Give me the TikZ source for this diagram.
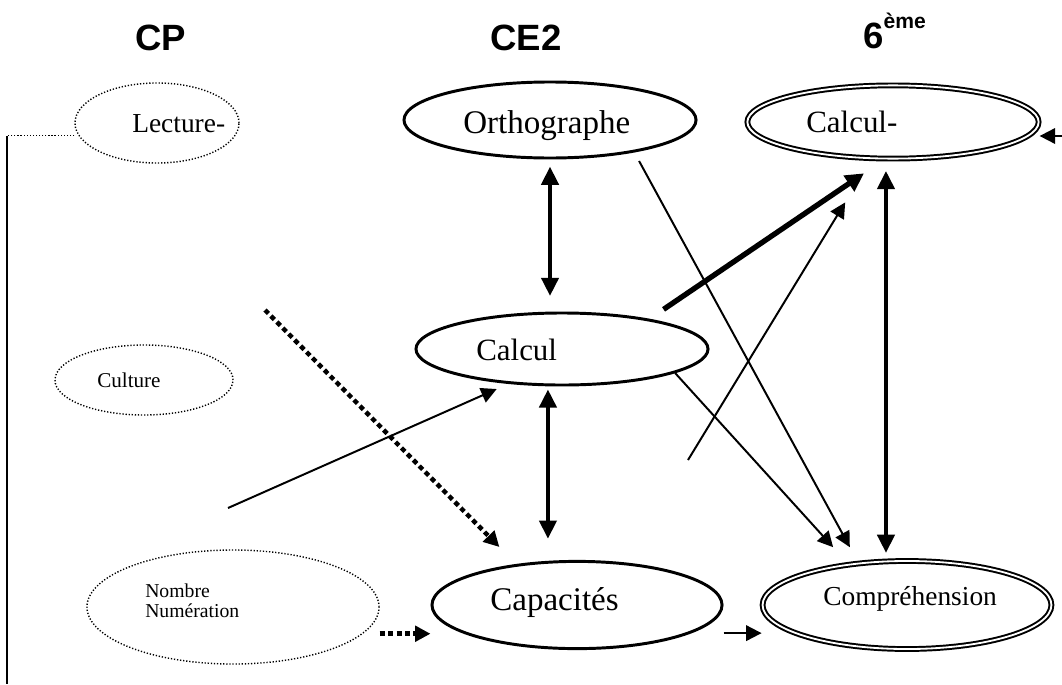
\documentclass[tikz,border=0pt]{standalone}
\usepackage{fontspec}
\setmainfont{Liberation Serif}
\newfontfamily\titrefont{Liberation Sans}
\usetikzlibrary{arrows.meta,shapes.geometric}

\begin{document}
\begin{tikzpicture}[x=0.025cm, y=-0.025cm,
    bulle/.style={ellipse, draw, line width=2.1pt, inner sep=0pt},
    bulledouble/.style={ellipse, draw, line width=1.4pt, double, double distance=1.3pt, inner sep=0pt},
    bullepoint/.style={ellipse, draw, line width=1pt, dash pattern=on 0.9pt off 1.3pt, inner sep=0pt},
    titre/.style={anchor=base west, inner sep=0pt, font=\titrefont\bfseries\fontsize{26}{30}\selectfont},
    mot/.style={anchor=base west, inner sep=0pt, font=\fontsize{22}{26}\selectfont},
    petit/.style={anchor=base west, inner sep=0pt, font=\fontsize{15}{18}\selectfont},
    fin/.style={line width=1.4pt, -{Triangle[length=11pt,width=11pt]}},
    bidir/.style={line width=3.2pt, {Triangle[length=13pt,width=12pt]}-{Triangle[length=13pt,width=12pt]}},
    fort/.style={line width=3.8pt, -{Triangle[length=13pt,width=13pt]}},
    tirets/.style={line width=3.2pt, dash pattern=on 3.5pt off 2.5pt, -{Triangle[length=11pt,width=11pt]}}
  ]
  \useasboundingbox (0,0) rectangle (1062,684);

  \node[titre] (cp) at (135,50) {CP};
  \node[titre] (ce2) at (490,50) {CE2};
  \node[titre] (sixieme) at (863,48) {6\raisebox{14pt}{\fontsize{15}{18}\selectfont ème}};

  \node[bullepoint, minimum width=4.1cm, minimum height=2cm] (lect) at (157,123) {};
  \node[bulle, minimum width=7.3cm, minimum height=1.9cm] (ortho) at (550,120) {};
  \node[bulledouble, minimum width=7.28cm, minimum height=1.83cm] (calcM) at (893,122) {};
  \node[bullepoint, minimum width=4.45cm, minimum height=1.75cm] (cult) at (144,380) {};
  \node[bulle, minimum width=7.3cm, minimum height=1.8cm] (calc) at (562,349) {};
  \node[bullepoint, minimum width=7.3cm, minimum height=2.85cm] (nomb) at (233,607) {};
  \node[bulle, minimum width=7.25cm, minimum height=2.18cm] (capa) at (577,605) {};
  \node[bulledouble, minimum width=7.22cm, minimum height=2.2cm] (compr) at (907,605) {};

  \node[mot, font=\fontsize{19.5}{24}\selectfont] (lectT) at (132,132) {Lecture-};
  \node[mot, font=\fontsize{23.5}{28}\selectfont] (orthoT) at (463,133) {Orthographe};
  \node[mot] (calcMT) at (806,132) {Calcul-};
  \node[petit] (cultT) at (97,387) {Culture};
  \node[mot] (calcT) at (476,360) {Calcul};
  \node[petit, anchor=west, align=left, font=\fontsize{14}{14.5}\selectfont] (nombT) at (145,601) {Nombre\\Numération};
  \node[mot, font=\fontsize{23.5}{28}\selectfont] (capaT) at (490,610) {Capacités};
  \node[mot, font=\fontsize{19.5}{24}\selectfont] (comprT) at (823,605) {Compréhension};

  \draw[bidir, shorten <=5pt, shorten >=11pt] (ortho.south) -- (ortho.south |- calc.north);
  \draw[bidir, shorten <=2pt, shorten >=15pt] ([xshift=-10pt]calc.south) -- ([xshift=-10pt]calc.south |- capa.north);
  \draw[bidir, shorten <=8pt, shorten >=5pt] ([xshift=-5pt]calcM.south) -- ([xshift=-5pt]calcM.south |- compr.north);

  \draw[fort, shorten <=12pt, shorten >=17.5pt] (calc.19) -- (calcM.257);
  \draw[fin, shorten <=7pt, shorten >=12.5pt] (ortho.-21) -- (compr.139);
  \draw[fin, shorten >=16pt] (calc.-12) -- (compr.145);

  \coordinate (depart) at (688,460);
  \draw[fin, shorten >=36pt] (depart) -- (calcM.240);
  \coordinate (departN) at (228,508);
  \draw[fin, shorten >=9pt] (departN) -- (calc.213);
  \coordinate (departL) at (265,310);
  \draw[tirets, shorten >=17pt] (departL) -- (capa.146);

  \draw[tirets] ([yshift=-19pt]nomb.east) -- ([yshift=-19pt]nomb.east -| capa.west);
  \draw[fin] ([yshift=-20pt]capa.east) -- ([yshift=-20pt]capa.east -| compr.west);
  \coordinate (bord) at (1062,136);
  \draw[fin] (bord) -- (bord -| calcM.east);

  \draw[line width=1pt, dash pattern=on 0.9pt off 1.3pt] ([yshift=-9pt]lect.west) -- ++(-67,0) coordinate (coin);
  \draw[line width=1.4pt] (coin) -- (coin |- 0,684);
\end{tikzpicture}
\end{document}
